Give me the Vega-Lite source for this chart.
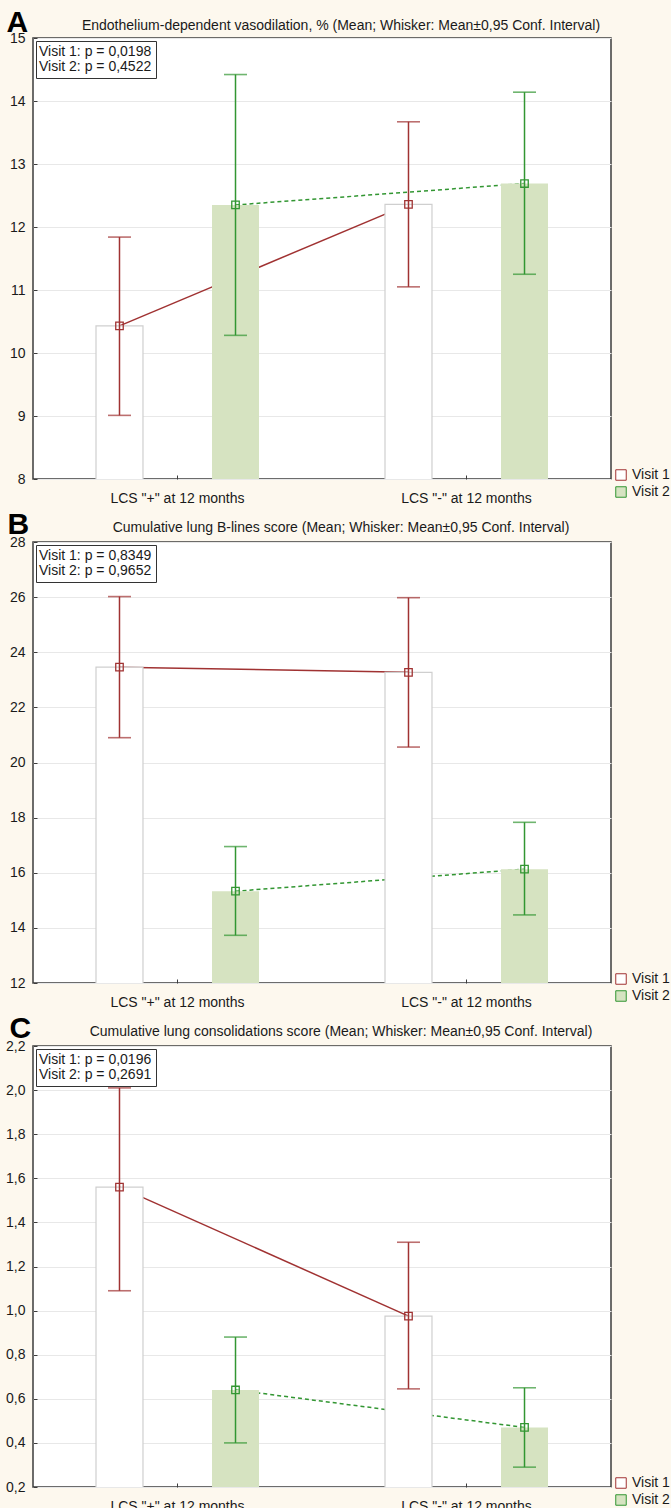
{
  "$schema": "https://vega.github.io/schema/vega-lite/v6.json",
  "padding": {"left": 4, "top": 6, "right": 0, "bottom": 0},
  "background": "#fdf8ee",
  "spacing": 2,
  "resolve": {"scale": {"fill": "independent", "stroke": "independent", "shape": "independent"}, "legend": {"fill": "independent", "stroke": "independent", "shape": "independent"}},
  "config": {
    "font": "Liberation Sans",
    "view": {"fill": "#ffffff", "stroke": "#3c3c3c", "strokeWidth": 1.5},
    "axis": {"labelFont": "Liberation Sans", "labelFontSize": 14, "labelColor": "#1a1a1a", "gridColor": "#e8e8e8", "gridWidth": 1.2, "domain": false, "tickColor": "#3c3c3c", "tickSize": -4, "titleFont": "Liberation Sans"},
    "title": {"font": "Liberation Sans", "fontSize": 14, "fontWeight": "normal", "color": "#1a1a1a", "offset": -26, "dx": 19},
    "legend": {"labelFont": "Liberation Sans", "labelFontSize": 14, "labelColor": "#1a1a1a", "labelLimit": 400}
  },
  "vconcat": [
    {
      "width": 578, "height": 441,
      "title": {"text": "Endothelium-dependent vasodilation, % (Mean; Whisker: Mean±0,95 Conf. Interval)"},
      "data": {"values": [
        {"group": "LCS \"+\" at 12 months", "visit": "Visit 1", "mean": 10.43, "lo": 9.01, "hi": 11.84, "plabel": "Visit 1: p = 0,0198"},
        {"group": "LCS \"+\" at 12 months", "visit": "Visit 2", "mean": 12.35, "lo": 10.28, "hi": 14.42, "plabel": "Visit 2: p = 0,4522"},
        {"group": "LCS \"-\" at 12 months", "visit": "Visit 1", "mean": 12.36, "lo": 11.05, "hi": 13.67, "plabel": "Visit 1: p = 0,0198"},
        {"group": "LCS \"-\" at 12 months", "visit": "Visit 2", "mean": 12.69, "lo": 11.25, "hi": 14.14, "plabel": "Visit 2: p = 0,4522"}
      ]},
      "encoding": {
        "x": {"field": "group", "type": "nominal", "sort": null, "scale": {"paddingInner": 0, "paddingOuter": 0},
              "axis": {"title": null, "labelAngle": 0, "grid": false, "ticks": true, "tickSize": -4, "bandPosition": 0.5, "labelPadding": 16}},
        "xOffset": {"field": "visit", "type": "nominal", "scale": {"domain": ["Visit 1", "Visit 2"], "paddingInner": 0.595, "paddingOuter": 0.543}},
        "y": {"field": "mean", "type": "quantitative", "scale": {"domain": [8, 15]},
              "axis": {"title": "A", "values": [8, 9, 10, 11, 12, 13, 14, 15], "grid": true, "labelPadding": 12,
                       "titleAngle": 0, "titleFontSize": 30, "titleFontWeight": "bold", "titleColor": "#000000", "titleAlign": "left", "titleBaseline": "alphabetic", "titleX": -27, "titleY": -7}}
      },
      "layer": [
        {"transform": [{"filter": "datum.visit === 'Visit 1'"}], "mark": {"type": "line", "color": "#a03232", "strokeWidth": 1.5}, "encoding": {}},
        {"transform": [{"filter": "datum.visit === 'Visit 2'"}], "mark": {"type": "line", "color": "#329632", "strokeWidth": 1.5, "strokeDash": [4, 3]}, "encoding": {}},
        {"mark": {"type": "bar", "clip": true, "stroke": "#cfcfcf", "strokeWidth": 1.2},
         "encoding": {
           "fill": {"field": "visit", "type": "nominal", "scale": {"domain": ["Visit 1", "Visit 2"], "range": ["#ffffff", "#d6e3c1"]},
                    "legend": {"title": null, "orient": "none", "legendX": 581, "legendY": 430, "symbolType": "square", "symbolSize": 110, "symbolStrokeWidth": 1, "labelOffset": 4, "rowPadding": 1, "padding": 0}},
           "strokeOpacity": {"condition": {"test": "datum.visit === 'Visit 1'", "value": 1}, "value": 0}
         }},
        {"mark": {"type": "rule", "strokeWidth": 1.5},
         "encoding": {
           "y": {"field": "lo", "type": "quantitative", "scale": {"domain": [8, 15]},
                 "axis": {"title": "A", "values": [8, 9, 10, 11, 12, 13, 14, 15], "grid": true, "labelPadding": 12,
                          "titleAngle": 0, "titleFontSize": 30, "titleFontWeight": "bold", "titleColor": "#000000", "titleAlign": "left", "titleBaseline": "alphabetic", "titleX": -27, "titleY": -7}},
           "y2": {"field": "hi"},
           "color": {"condition": {"test": "datum.visit === 'Visit 1'", "value": "#a03232"}, "value": "#329632"}
         }},
        {"mark": {"type": "tick", "size": 23, "thickness": 1.6},
         "encoding": {
           "y": {"field": "lo", "type": "quantitative", "scale": {"domain": [8, 15]},
                 "axis": {"title": "A", "values": [8, 9, 10, 11, 12, 13, 14, 15], "grid": true, "labelPadding": 12,
                          "titleAngle": 0, "titleFontSize": 30, "titleFontWeight": "bold", "titleColor": "#000000", "titleAlign": "left", "titleBaseline": "alphabetic", "titleX": -27, "titleY": -7}},
           "color": {"condition": {"test": "datum.visit === 'Visit 1'", "value": "#a03232"}, "value": "#329632"}
         }},
        {"mark": {"type": "tick", "size": 23, "thickness": 1.6},
         "encoding": {
           "y": {"field": "hi", "type": "quantitative", "scale": {"domain": [8, 15]},
                 "axis": {"title": "A", "values": [8, 9, 10, 11, 12, 13, 14, 15], "grid": true, "labelPadding": 12,
                          "titleAngle": 0, "titleFontSize": 30, "titleFontWeight": "bold", "titleColor": "#000000", "titleAlign": "left", "titleBaseline": "alphabetic", "titleX": -27, "titleY": -7}},
           "color": {"condition": {"test": "datum.visit === 'Visit 1'", "value": "#a03232"}, "value": "#329632"}
         }},
        {"mark": {"type": "point", "shape": "square", "size": 56, "filled": false, "strokeWidth": 1.3, "opacity": 1},
         "encoding": {
           "stroke": {"field": "visit", "type": "nominal", "scale": {"domain": ["Visit 1", "Visit 2"], "range": ["#a03232", "#329632"]},
                      "legend": {"title": null, "orient": "none", "legendX": 581, "legendY": 430, "symbolType": "square", "symbolSize": 110, "symbolStrokeWidth": 1, "labelOffset": 4, "rowPadding": 1, "padding": 0}}
         }},
        {"mark": {"type": "point", "opacity": 0},
         "encoding": {
           "shape": {"field": "plabel", "type": "nominal",
                     "legend": {"title": null, "orient": "top-left", "offset": 3, "padding": 4, "strokeColor": "#333333", "fillColor": "#ffffff", "symbolSize": 0, "symbolOpacity": 0, "symbolStrokeWidth": 0, "labelOffset": -15, "rowPadding": 1}}
         }}
      ]
    },
    {
      "width": 578, "height": 441,
      "title": {"text": "Cumulative lung B-lines score (Mean; Whisker: Mean±0,95 Conf. Interval)"},
      "data": {"values": [
        {"group": "LCS \"+\" at 12 months", "visit": "Visit 1", "mean": 23.46, "lo": 20.9, "hi": 26.02, "plabel": "Visit 1: p = 0,8349"},
        {"group": "LCS \"+\" at 12 months", "visit": "Visit 2", "mean": 15.33, "lo": 13.73, "hi": 16.95, "plabel": "Visit 2: p = 0,9652"},
        {"group": "LCS \"-\" at 12 months", "visit": "Visit 1", "mean": 23.27, "lo": 20.56, "hi": 25.98, "plabel": "Visit 1: p = 0,8349"},
        {"group": "LCS \"-\" at 12 months", "visit": "Visit 2", "mean": 16.13, "lo": 14.47, "hi": 17.83, "plabel": "Visit 2: p = 0,9652"}
      ]},
      "encoding": {
        "x": {"field": "group", "type": "nominal", "sort": null, "scale": {"paddingInner": 0, "paddingOuter": 0},
              "axis": {"title": null, "labelAngle": 0, "grid": false, "ticks": true, "tickSize": -4, "bandPosition": 0.5, "labelPadding": 16}},
        "xOffset": {"field": "visit", "type": "nominal", "scale": {"domain": ["Visit 1", "Visit 2"], "paddingInner": 0.595, "paddingOuter": 0.543}},
        "y": {"field": "mean", "type": "quantitative", "scale": {"domain": [12, 28]},
              "axis": {"title": "B", "values": [12, 14, 16, 18, 20, 22, 24, 26, 28], "grid": true, "labelPadding": 12,
                       "titleAngle": 0, "titleFontSize": 30, "titleFontWeight": "bold", "titleColor": "#000000", "titleAlign": "left", "titleBaseline": "alphabetic", "titleX": -26, "titleY": -9}}
      },
      "layer": [
        {"transform": [{"filter": "datum.visit === 'Visit 1'"}], "mark": {"type": "line", "color": "#a03232", "strokeWidth": 1.5}, "encoding": {}},
        {"transform": [{"filter": "datum.visit === 'Visit 2'"}], "mark": {"type": "line", "color": "#329632", "strokeWidth": 1.5, "strokeDash": [4, 3]}, "encoding": {}},
        {"mark": {"type": "bar", "clip": true, "stroke": "#cfcfcf", "strokeWidth": 1.2},
         "encoding": {
           "fill": {"field": "visit", "type": "nominal", "scale": {"domain": ["Visit 1", "Visit 2"], "range": ["#ffffff", "#d6e3c1"]},
                    "legend": {"title": null, "orient": "none", "legendX": 581, "legendY": 430, "symbolType": "square", "symbolSize": 110, "symbolStrokeWidth": 1, "labelOffset": 4, "rowPadding": 1, "padding": 0}},
           "strokeOpacity": {"condition": {"test": "datum.visit === 'Visit 1'", "value": 1}, "value": 0}
         }},
        {"mark": {"type": "rule", "strokeWidth": 1.5},
         "encoding": {
           "y": {"field": "lo", "type": "quantitative", "scale": {"domain": [12, 28]},
                 "axis": {"title": "B", "values": [12, 14, 16, 18, 20, 22, 24, 26, 28], "grid": true, "labelPadding": 12,
                          "titleAngle": 0, "titleFontSize": 30, "titleFontWeight": "bold", "titleColor": "#000000", "titleAlign": "left", "titleBaseline": "alphabetic", "titleX": -26, "titleY": -9}},
           "y2": {"field": "hi"},
           "color": {"condition": {"test": "datum.visit === 'Visit 1'", "value": "#a03232"}, "value": "#329632"}
         }},
        {"mark": {"type": "tick", "size": 23, "thickness": 1.6},
         "encoding": {
           "y": {"field": "lo", "type": "quantitative", "scale": {"domain": [12, 28]},
                 "axis": {"title": "B", "values": [12, 14, 16, 18, 20, 22, 24, 26, 28], "grid": true, "labelPadding": 12,
                          "titleAngle": 0, "titleFontSize": 30, "titleFontWeight": "bold", "titleColor": "#000000", "titleAlign": "left", "titleBaseline": "alphabetic", "titleX": -26, "titleY": -9}},
           "color": {"condition": {"test": "datum.visit === 'Visit 1'", "value": "#a03232"}, "value": "#329632"}
         }},
        {"mark": {"type": "tick", "size": 23, "thickness": 1.6},
         "encoding": {
           "y": {"field": "hi", "type": "quantitative", "scale": {"domain": [12, 28]},
                 "axis": {"title": "B", "values": [12, 14, 16, 18, 20, 22, 24, 26, 28], "grid": true, "labelPadding": 12,
                          "titleAngle": 0, "titleFontSize": 30, "titleFontWeight": "bold", "titleColor": "#000000", "titleAlign": "left", "titleBaseline": "alphabetic", "titleX": -26, "titleY": -9}},
           "color": {"condition": {"test": "datum.visit === 'Visit 1'", "value": "#a03232"}, "value": "#329632"}
         }},
        {"mark": {"type": "point", "shape": "square", "size": 56, "filled": false, "strokeWidth": 1.3, "opacity": 1},
         "encoding": {
           "stroke": {"field": "visit", "type": "nominal", "scale": {"domain": ["Visit 1", "Visit 2"], "range": ["#a03232", "#329632"]},
                      "legend": {"title": null, "orient": "none", "legendX": 581, "legendY": 430, "symbolType": "square", "symbolSize": 110, "symbolStrokeWidth": 1, "labelOffset": 4, "rowPadding": 1, "padding": 0}}
         }},
        {"mark": {"type": "point", "opacity": 0},
         "encoding": {
           "shape": {"field": "plabel", "type": "nominal",
                     "legend": {"title": null, "orient": "top-left", "offset": 3, "padding": 4, "strokeColor": "#333333", "fillColor": "#ffffff", "symbolSize": 0, "symbolOpacity": 0, "symbolStrokeWidth": 0, "labelOffset": -15, "rowPadding": 1}}
         }}
      ]
    },
    {
      "width": 578, "height": 441,
      "title": {"text": "Cumulative lung consolidations score (Mean; Whisker: Mean±0,95 Conf. Interval)"},
      "data": {"values": [
        {"group": "LCS \"+\" at 12 months", "visit": "Visit 1", "mean": 1.56, "lo": 1.09, "hi": 2.01, "plabel": "Visit 1: p = 0,0196"},
        {"group": "LCS \"+\" at 12 months", "visit": "Visit 2", "mean": 0.64, "lo": 0.4, "hi": 0.88, "plabel": "Visit 2: p = 0,2691"},
        {"group": "LCS \"-\" at 12 months", "visit": "Visit 1", "mean": 0.975, "lo": 0.645, "hi": 1.31, "plabel": "Visit 1: p = 0,0196"},
        {"group": "LCS \"-\" at 12 months", "visit": "Visit 2", "mean": 0.47, "lo": 0.29, "hi": 0.65, "plabel": "Visit 2: p = 0,2691"}
      ]},
      "encoding": {
        "x": {"field": "group", "type": "nominal", "sort": null, "scale": {"paddingInner": 0, "paddingOuter": 0},
              "axis": {"title": null, "labelAngle": 0, "grid": false, "ticks": true, "tickSize": -4, "bandPosition": 0.5, "labelPadding": 16}},
        "xOffset": {"field": "visit", "type": "nominal", "scale": {"domain": ["Visit 1", "Visit 2"], "paddingInner": 0.595, "paddingOuter": 0.543}},
        "y": {"field": "mean", "type": "quantitative", "scale": {"domain": [0.2, 2.2]},
              "axis": {"title": "C", "values": [0.2, 0.4, 0.6, 0.8, 1.0, 1.2, 1.4, 1.6, 1.8, 2.0, 2.2], "grid": true, "labelPadding": 12,
                       "labelExpr": "replace(format(datum.value, '.1f'), '.', ',')",
                       "titleAngle": 0, "titleFontSize": 30, "titleFontWeight": "bold", "titleColor": "#000000", "titleAlign": "left", "titleBaseline": "alphabetic", "titleX": -24, "titleY": -9}}
      },
      "layer": [
        {"transform": [{"filter": "datum.visit === 'Visit 1'"}], "mark": {"type": "line", "color": "#a03232", "strokeWidth": 1.5}, "encoding": {}},
        {"transform": [{"filter": "datum.visit === 'Visit 2'"}], "mark": {"type": "line", "color": "#329632", "strokeWidth": 1.5, "strokeDash": [4, 3]}, "encoding": {}},
        {"mark": {"type": "bar", "clip": true, "stroke": "#cfcfcf", "strokeWidth": 1.2},
         "encoding": {
           "fill": {"field": "visit", "type": "nominal", "scale": {"domain": ["Visit 1", "Visit 2"], "range": ["#ffffff", "#d6e3c1"]},
                    "legend": {"title": null, "orient": "none", "legendX": 581, "legendY": 430, "symbolType": "square", "symbolSize": 110, "symbolStrokeWidth": 1, "labelOffset": 4, "rowPadding": 1, "padding": 0}},
           "strokeOpacity": {"condition": {"test": "datum.visit === 'Visit 1'", "value": 1}, "value": 0}
         }},
        {"mark": {"type": "rule", "strokeWidth": 1.5},
         "encoding": {
           "y": {"field": "lo", "type": "quantitative", "scale": {"domain": [0.2, 2.2]},
                 "axis": {"title": "C", "values": [0.2, 0.4, 0.6, 0.8, 1.0, 1.2, 1.4, 1.6, 1.8, 2.0, 2.2], "grid": true, "labelPadding": 12,
                          "labelExpr": "replace(format(datum.value, '.1f'), '.', ',')",
                          "titleAngle": 0, "titleFontSize": 30, "titleFontWeight": "bold", "titleColor": "#000000", "titleAlign": "left", "titleBaseline": "alphabetic", "titleX": -24, "titleY": -9}},
           "y2": {"field": "hi"},
           "color": {"condition": {"test": "datum.visit === 'Visit 1'", "value": "#a03232"}, "value": "#329632"}
         }},
        {"mark": {"type": "tick", "size": 23, "thickness": 1.6},
         "encoding": {
           "y": {"field": "lo", "type": "quantitative", "scale": {"domain": [0.2, 2.2]},
                 "axis": {"title": "C", "values": [0.2, 0.4, 0.6, 0.8, 1.0, 1.2, 1.4, 1.6, 1.8, 2.0, 2.2], "grid": true, "labelPadding": 12,
                          "labelExpr": "replace(format(datum.value, '.1f'), '.', ',')",
                          "titleAngle": 0, "titleFontSize": 30, "titleFontWeight": "bold", "titleColor": "#000000", "titleAlign": "left", "titleBaseline": "alphabetic", "titleX": -24, "titleY": -9}},
           "color": {"condition": {"test": "datum.visit === 'Visit 1'", "value": "#a03232"}, "value": "#329632"}
         }},
        {"mark": {"type": "tick", "size": 23, "thickness": 1.6},
         "encoding": {
           "y": {"field": "hi", "type": "quantitative", "scale": {"domain": [0.2, 2.2]},
                 "axis": {"title": "C", "values": [0.2, 0.4, 0.6, 0.8, 1.0, 1.2, 1.4, 1.6, 1.8, 2.0, 2.2], "grid": true, "labelPadding": 12,
                          "labelExpr": "replace(format(datum.value, '.1f'), '.', ',')",
                          "titleAngle": 0, "titleFontSize": 30, "titleFontWeight": "bold", "titleColor": "#000000", "titleAlign": "left", "titleBaseline": "alphabetic", "titleX": -24, "titleY": -9}},
           "color": {"condition": {"test": "datum.visit === 'Visit 1'", "value": "#a03232"}, "value": "#329632"}
         }},
        {"mark": {"type": "point", "shape": "square", "size": 56, "filled": false, "strokeWidth": 1.3, "opacity": 1},
         "encoding": {
           "stroke": {"field": "visit", "type": "nominal", "scale": {"domain": ["Visit 1", "Visit 2"], "range": ["#a03232", "#329632"]},
                      "legend": {"title": null, "orient": "none", "legendX": 581, "legendY": 430, "symbolType": "square", "symbolSize": 110, "symbolStrokeWidth": 1, "labelOffset": 4, "rowPadding": 1, "padding": 0}}
         }},
        {"mark": {"type": "point", "opacity": 0},
         "encoding": {
           "shape": {"field": "plabel", "type": "nominal",
                     "legend": {"title": null, "orient": "top-left", "offset": 3, "padding": 4, "strokeColor": "#333333", "fillColor": "#ffffff", "symbolSize": 0, "symbolOpacity": 0, "symbolStrokeWidth": 0, "labelOffset": -15, "rowPadding": 1}}
         }}
      ]
    }
  ]
}
